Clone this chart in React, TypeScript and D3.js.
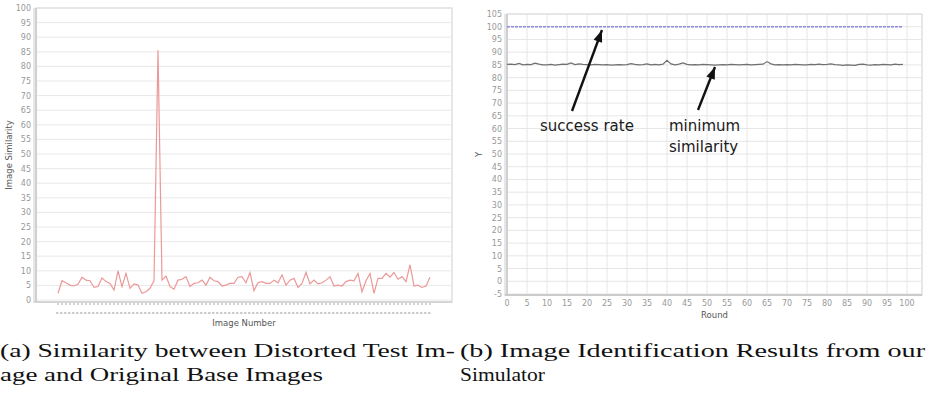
import React from 'react';
import * as d3 from 'd3';

// (a) similarity of the distorted test image against each base image
const imageSimilarity = [
  2.3, 6.6, 5.9, 5.1, 4.8, 5.4, 7.8, 6.8, 6.6, 4.3,
  4.6, 7.5, 6.3, 5.7, 3.4, 10.0, 4.6, 9.1, 4.0, 5.5,
  5.1, 2.3, 2.8, 4.0, 6.6, 85.5, 6.8, 8.2, 4.6, 3.7,
  6.8, 7.1, 8.0, 4.6, 5.7, 5.9, 6.8, 5.1, 7.8, 6.6,
  6.3, 4.8, 5.1, 5.7, 5.7, 7.8, 8.0, 5.9, 9.4, 3.2,
  5.9, 6.3, 5.7, 5.7, 6.8, 5.9, 8.6, 5.1, 6.8, 7.4,
  4.3, 5.7, 9.5, 5.5, 6.8, 5.5, 5.9, 6.8, 8.0, 4.8,
  5.1, 4.8, 6.3, 6.8, 6.6, 9.1, 2.8, 6.6, 9.1, 2.3,
  7.4, 7.4, 9.1, 7.8, 9.4, 7.1, 8.0, 6.3, 12.0, 4.8,
  5.1, 4.3, 4.8, 7.8,
];
const similarityTicks = d3.range(0, 101, 5);

// (b) simulator results per round
const successRate = [
  100, 100, 100, 100, 100, 100, 100, 100, 100, 100,
  100, 100, 100, 100, 100, 100, 100, 100, 100, 100,
  100, 100, 100, 100, 100, 100, 100, 100, 100, 100,
  100, 100, 100, 100, 100, 100, 100, 100, 100, 100,
  100, 100, 100, 100, 100, 100, 100, 100, 100, 100,
  100, 100, 100, 100, 100, 100, 100, 100, 100, 100,
  100, 100, 100, 100, 100, 100, 100, 100, 100, 100,
  100, 100, 100, 100, 100, 100, 100, 100, 100, 100,
  100, 100, 100, 100, 100, 100, 100, 100, 100, 100,
  100, 100, 100, 100, 100, 100, 100, 100, 100, 100,
];
const minimumSimilarity = [
  85.2, 85.3, 85.1, 85.6, 85.0, 85.2, 85.1, 85.7, 85.3, 85.0,
  85.0, 85.2, 84.9, 85.1, 85.3, 85.2, 85.8, 85.1, 85.4, 85.2,
  85.1, 85.0, 85.2, 85.1, 85.0, 85.1, 84.9, 85.0, 85.1, 85.0,
  85.1, 85.5, 85.2, 85.0, 85.1, 85.4, 85.0, 85.2, 85.0, 85.3,
  86.8, 85.4, 85.0, 85.3, 85.8, 85.2, 85.0, 85.1, 85.0, 85.2,
  85.1, 85.0, 84.9, 85.0, 85.1, 85.0, 85.2, 85.1, 85.0, 85.1,
  85.2, 85.0, 85.1, 85.2, 85.3, 86.3, 85.4, 85.0, 85.1, 85.0,
  85.1, 85.0, 85.2, 85.1, 85.0, 85.0, 85.2, 85.1, 85.3, 85.1,
  85.2, 85.4, 85.1, 85.0, 84.8, 85.0, 84.9, 84.8, 85.2, 85.3,
  85.0, 84.9, 85.1, 85.0, 85.2, 85.1, 85.0, 85.3, 85.1, 85.2,
];
const roundTicks = d3.range(0, 101, 5);
const yTicks = d3.range(-5, 106, 5);

// annotation arrows, in data units (round, y)
const annotations = [
  { lines: ['success rate'], textAt: [8.25, 59], from: [16.25, 66.9], to: [23.75, 98.7] },
  { lines: ['minimum', 'similarity'], textAt: [40.5, 59], from: [47.75, 67.3], to: [52, 84.2] },
];

const captions = [
  { lines: ['(a) Similarity between Distorted Test Im-', 'age and Original Base Images'], x: 0, widths: [455, 323] },
  { lines: ['(b) Image Identification Results from our', 'Simulator'], x: 460, widths: [465, 85] },
];

const sans = 'DejaVu Sans, sans-serif';

function LeftChart() {
  const left = 36, right = 452, top = 8, bottom = 302;
  const x = d3.scaleLinear().domain([0, imageSimilarity.length - 1]).range([58, 430]);
  const y = d3.scaleLinear().domain([0, 100]).range([300, top]);
  const line = d3.line<number>().x((_, i) => x(i)).y((d) => y(d));
  const idx = d3.range(imageSimilarity.length);

  return (
    <g>
      <rect x={left} y={top} width={right - left} height={bottom - top} fill="#fff" stroke="#cfcfcf" />
      {similarityTicks.map((t) => (
        <g key={t}>
          <line x1={left} x2={right} y1={y(t)} y2={y(t)} stroke="#e8e8e8" />
          <text x={31} y={y(t) + 3} fontSize={8} fill="#999" textAnchor="end" fontFamily={sans}>{t}</text>
        </g>
      ))}
      <line x1={left} x2={left} y1={top} y2={bottom} stroke="#b8b8b8" />
      <line x1={left - 2} x2={left - 2} y1={top} y2={bottom + 1} stroke="#cfcfcf" />
      <line x1={left - 2} x2={right} y1={bottom} y2={bottom} stroke="#c4c4c4" />
      {idx.map((i) => (
        <line key={'t' + i} x1={x(i)} x2={x(i)} y1={bottom + 1} y2={bottom + 3} stroke="#aaa" />
      ))}
      {idx.map((i) => (
        <line key={'l' + i} x1={x(i) - 2} x2={x(i) + 0.5} y1={313} y2={313} stroke="#999" />
      ))}
      <path d={line(imageSimilarity) ?? ''} fill="none" stroke="#ec9898" strokeWidth={1.2} />
      <text x={(left + right) / 2} y={326} fontSize={8.5} fill="#555" textAnchor="middle" fontFamily={sans}>Image Number</text>
      <text transform={`translate(12,${(top + bottom) / 2}) rotate(-90)`} fontSize={8.5} fill="#555" textAnchor="middle" fontFamily={sans}>Image Similarity</text>
    </g>
  );
}

function RightChart() {
  const top = 14, bottom = 295;
  const x = d3.scaleLinear().domain([0, 100]).range([507, 907]);
  const y = d3.scaleLinear().domain([-5, 105]).range([294, top]);
  const left = x(0), right = x(103.75);
  const line = d3.line<number>().x((_, i) => x(i)).y((d) => y(d));

  const arrowHead = (fx: number, fy: number, tx: number, ty: number) => {
    const ang = Math.atan2(ty - fy, tx - fx);
    const len = 12, half = 4.5;
    const bx = tx - len * Math.cos(ang), by = ty - len * Math.sin(ang);
    const px = -Math.sin(ang) * half, py = Math.cos(ang) * half;
    return `M${tx},${ty}L${bx + px},${by + py}L${bx - px},${by - py}Z`;
  };

  return (
    <g>
      <rect x={left} y={top} width={right - left} height={bottom - top} fill="#fff" stroke="#cfcfcf" />
      {yTicks.map((t) => (
        <g key={'y' + t}>
          <line x1={left} x2={right} y1={y(t)} y2={y(t)} stroke="#e6e6e6" />
          <text x={502} y={y(t) + 3} fontSize={8} fill="#999" textAnchor="end" fontFamily={sans}>{t}</text>
        </g>
      ))}
      {roundTicks.map((t) => (
        <g key={'x' + t}>
          <line x1={x(t)} x2={x(t)} y1={top} y2={bottom} stroke="#e6e6e6" />
          <text x={x(t)} y={306} fontSize={8} fill="#999" textAnchor="middle" fontFamily={sans}>{t}</text>
        </g>
      ))}
      <line x1={left} x2={left} y1={top} y2={bottom} stroke="#b8b8b8" />
      <line x1={left - 2} x2={left - 2} y1={top} y2={bottom + 1} stroke="#cfcfcf" />
      <line x1={left - 2} x2={right} y1={bottom} y2={bottom} stroke="#b0b0b0" />
      <path d={line(successRate) ?? ''} fill="none" stroke="#8c8cdc" strokeWidth={1.4} strokeDasharray="3,1" />
      <path d={line(minimumSimilarity) ?? ''} fill="none" stroke="#707070" strokeWidth={1.2} />
      {annotations.map((a, i) => {
        const fx = x(a.from[0]), fy = y(a.from[1]), tx = x(a.to[0]), ty = y(a.to[1]);
        return (
          <g key={i}>
            <line x1={fx} y1={fy} x2={tx} y2={ty} stroke="#111" strokeWidth={2.4} />
            <path d={arrowHead(fx, fy, tx, ty)} fill="#111" />
            {a.lines.map((s, j) => (
              <text key={j} x={x(a.textAt[0])} y={y(a.textAt[1]) + j * 21} fontSize={15} fill="#1a1a1a" fontFamily={sans}>{s}</text>
            ))}
          </g>
        );
      })}
      <text x={(left + right) / 2} y={318} fontSize={8.5} fill="#555" textAnchor="middle" fontFamily={sans}>Round</text>
      <text transform={`translate(482,${(top + bottom) / 2}) rotate(-90)`} fontSize={8.5} fill="#555" textAnchor="middle" fontFamily={sans}>Y</text>
    </g>
  );
}

export default function App() {
  return (
    <svg width={927} height={394} style={{ position: 'absolute', left: 0, top: 0, background: '#fff' }}>
      <rect width={927} height={394} fill="#fff" />
      <LeftChart />
      <RightChart />
      {captions.map((c, i) => (
        <g key={i}>
          {c.lines.map((s, j) => (
            <text key={j} x={c.x} y={357 + j * 24} fontSize={19} fill="#111"
              fontFamily="Liberation Serif, serif" textLength={c.widths[j]} lengthAdjust="spacingAndGlyphs">{s}</text>
          ))}
        </g>
      ))}
    </svg>
  );
}
